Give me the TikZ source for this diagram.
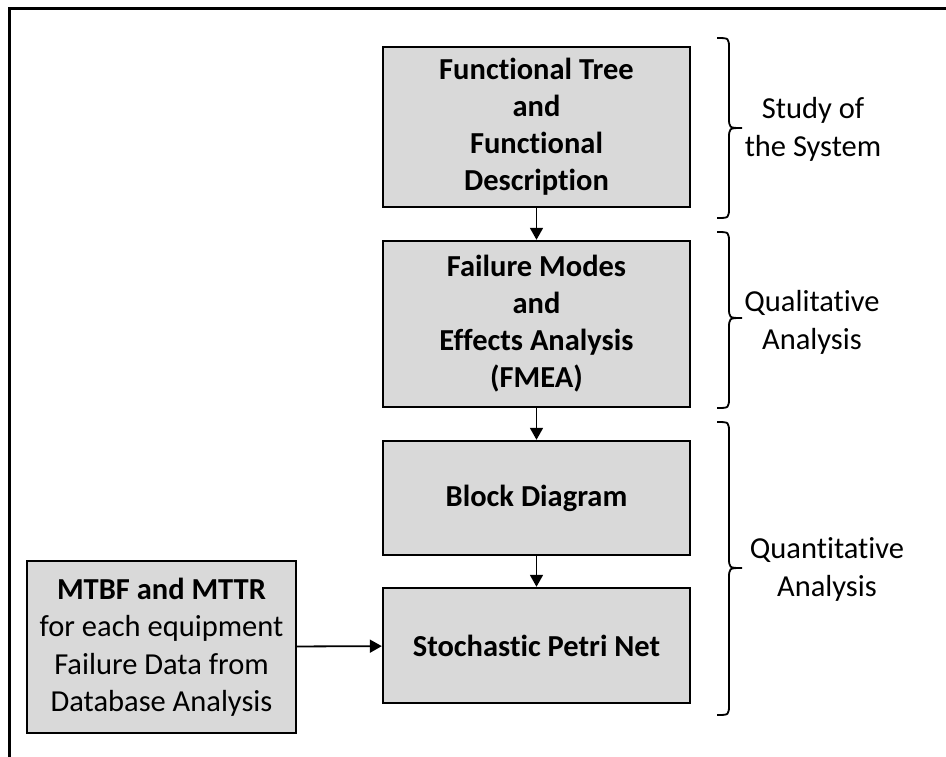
\documentclass[tikz,border=0pt]{standalone}
\usepackage{fontspec}
\setmainfont[Ligatures=NoCommon]{Carlito}
\usetikzlibrary{arrows.meta}

\tikzset{
  stage/.style={draw=black, line width=2.4pt, fill=black!15, align=center,
    minimum width=307pt, inner sep=0pt,
    font=\fontsize{30.5}{37}\selectfont\bfseries},
  datasrc/.style={draw=black, line width=2.4pt, fill=black!15, align=center,
    minimum width=269pt, minimum height=172pt, inner sep=0pt,
    font=\fontsize{30.5}{37.5}\selectfont},
  flow/.style={draw=black, line width=1.8pt,
    -{Triangle[width=13pt,length=12pt]}},
  bracket/.style={draw=black, line width=1.8pt},
  phase/.style={align=center, font=\fontsize{30.5}{38}\selectfont},
}

% right-hand curly brace: top y, tip y, bottom y
\newcommand{\phasebrace}[3]{%
  \draw[bracket] (717,#1) .. controls (729,#1) .. (729,#1+11)
    -- (729,#2-11) .. controls (729,#2) .. (742,#2)
    .. controls (729,#2) .. (729,#2+11)
    -- (729,#3-11) .. controls (729,#3) .. (717,#3);}

\begin{document}
\begin{tikzpicture}[x=1pt, y=-1pt]
\useasboundingbox (0,0) rectangle (946,756);

% outer frame (open to the right and bottom)
\draw[line width=2.4pt] (9.5,760) -- (9.5,8.5) -- (950,8.5);

% process stages
\node[stage, minimum height=160pt] (tree) at (536.5,127)
  {Functional Tree\\and\\Functional\\Description};
\node[stage, minimum height=166pt] (fmea) at (536.5,324)
  {Failure Modes\\and\\Effects Analysis\\(FMEA)};
\node[stage, minimum height=114pt] (block) at (536.5,498) {Block Diagram};
\node[stage, minimum height=115pt] (spn) at (536.5,645.5) {Stochastic Petri Net};

% input data
\node[datasrc] (data) at (161.5,647)
  {\textbf{MTBF and MTTR}\\for each equipment\\Failure Data from\\Database Analysis};

% connectors
\draw[flow] (tree) -- (fmea);
\draw[flow] (fmea) -- (block);
\draw[flow] (block) -- (spn);
\draw[flow] (data) -- (spn);

% phase braces and labels
\phasebrace{38}{128}{218}
\phasebrace{232}{318}{408}
\phasebrace{422}{568}{715}

\node[phase] (study) at (813,129) {Study of\\the System};
\node[phase] (qual) at (812,322) {Qualitative\\Analysis};
\node[phase] (quant) at (827,569) {Quantitative\\Analysis};
\end{tikzpicture}
\end{document}
